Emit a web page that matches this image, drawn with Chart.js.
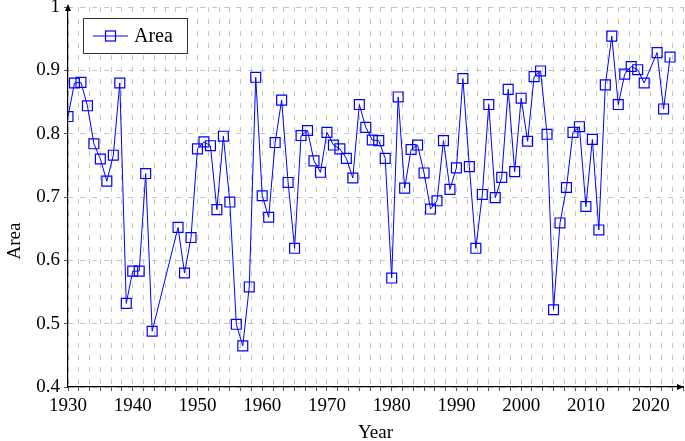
<!DOCTYPE html>
<html>
<head>
<meta charset="utf-8">
<script src="https://cdn.jsdelivr.net/npm/chart.js@4/dist/chart.umd.min.js"></script>
<style>
  html, body { margin: 0; padding: 0; background: #fff; overflow: hidden; }
  #wrap { width: 685px; height: 441px; }
</style>
</head>
<body>
<div id="wrap"><canvas id="chart"></canvas></div>
<script>
// Years with a reading (1944-1946 and 2020 have none)
const years = [
    1930, 1931, 1932, 1933, 1934, 1935, 1936, 1937, 1938, 1939, 1940, 1941, 1942, 1943,
    1947, 1948, 1949, 1950, 1951, 1952, 1953, 1954, 1955, 1956, 1957, 1958, 1959,
    1960, 1961, 1962, 1963, 1964, 1965, 1966, 1967, 1968, 1969,
    1970, 1971, 1972, 1973, 1974, 1975, 1976, 1977, 1978, 1979,
    1980, 1981, 1982, 1983, 1984, 1985, 1986, 1987, 1988, 1989,
    1990, 1991, 1992, 1993, 1994, 1995, 1996, 1997, 1998, 1999,
    2000, 2001, 2002, 2003, 2004, 2005, 2006, 2007, 2008, 2009,
    2010, 2011, 2012, 2013, 2014, 2015, 2016, 2017, 2018, 2019,
    2021, 2022, 2023
];
const areaValues = [
    0.827, 0.880, 0.881, 0.844, 0.784, 0.760, 0.725, 0.766, 0.880, 0.532, 0.583, 0.583, 0.737, 0.488,
    0.652, 0.580, 0.636, 0.776, 0.787, 0.781, 0.680, 0.796, 0.692, 0.499, 0.465, 0.558, 0.889,
    0.702, 0.668, 0.786, 0.853, 0.723, 0.619, 0.797, 0.805, 0.757, 0.739,
    0.802, 0.782, 0.776, 0.761, 0.730, 0.846, 0.810, 0.790, 0.789, 0.761,
    0.572, 0.858, 0.714, 0.775, 0.782, 0.738, 0.681, 0.694, 0.789, 0.712,
    0.746, 0.887, 0.748, 0.619, 0.704, 0.846, 0.699, 0.731, 0.870, 0.740,
    0.856, 0.788, 0.890, 0.899, 0.799, 0.522, 0.659, 0.715, 0.802, 0.811,
    0.685, 0.791, 0.648, 0.877, 0.954, 0.846, 0.894, 0.906, 0.901, 0.880,
    0.928, 0.839, 0.921
];
const xLabelYears = [1930, 1940, 1950, 1960, 1970, 1980, 1990, 2000, 2010, 2020];
const yTickValues = [0.4, 0.5, 0.6, 0.7, 0.8, 0.9, 1];

const BLUE = '#0000ff';
const GRID = '#c4c4c4';
const FONT = "'Liberation Serif', 'Times New Roman', serif";

Chart.defaults.font.family = FONT;
Chart.defaults.font.size = 19;
Chart.defaults.color = '#000';

// axis arrows, y label and the boxed legend in the upper left
const decorations = {
    id: 'decorations',
    afterDraw(chart) {
        const ctx = chart.ctx;
        const a = chart.chartArea;
        ctx.save();
        ctx.fillStyle = '#000';
        // y arrow
        ctx.beginPath();
        ctx.moveTo(a.left, a.top - 3);
        ctx.lineTo(a.left - 3, a.top + 4);
        ctx.lineTo(a.left + 3, a.top + 4);
        ctx.closePath();
        ctx.fill();
        // x arrow
        ctx.beginPath();
        ctx.moveTo(a.right + 1, a.bottom);
        ctx.lineTo(a.right - 6, a.bottom - 3);
        ctx.lineTo(a.right - 6, a.bottom + 3);
        ctx.closePath();
        ctx.fill();

        // y axis label
        ctx.save();
        ctx.translate(15, 241);
        ctx.rotate(-Math.PI / 2);
        ctx.font = '19px ' + FONT;
        ctx.textAlign = 'center';
        ctx.textBaseline = 'middle';
        ctx.fillText('Area', 0, 0);
        ctx.restore();

        // legend box
        const ds = chart.data.datasets[0];
        const bx = 83.5, by = 18.5, bw = 104, bh = 35;
        ctx.fillStyle = '#fff';
        ctx.fillRect(bx, by, bw, bh);
        ctx.strokeStyle = '#333';
        ctx.lineWidth = 1;
        ctx.strokeRect(bx, by, bw, bh);
        const cy = by + bh / 2;
        ctx.strokeStyle = ds.borderColor;
        ctx.lineWidth = ds.borderWidth;
        ctx.beginPath();
        ctx.moveTo(93, cy);
        ctx.lineTo(128, cy);
        ctx.stroke();
        ctx.lineWidth = ds.pointBorderWidth;
        ctx.strokeRect(105.5, cy - 5, 10, 10);
        ctx.fillStyle = '#000';
        ctx.font = '20px ' + FONT;
        ctx.textBaseline = 'middle';
        ctx.fillText(ds.label, 134, cy + 1);
        ctx.restore();
    }
};

new Chart(document.getElementById('chart'), {
    type: 'line',
    data: {
        datasets: [{
            label: 'Area',
            data: years.map((yr, i) => ({ x: yr, y: areaValues[i] })),
            borderColor: BLUE,
            borderWidth: 1,
            pointStyle: 'rect',
            pointRadius: 7,
            pointHoverRadius: 7,
            pointBorderWidth: 1.2,
            pointBorderColor: BLUE,
            pointBackgroundColor: 'rgba(0,0,0,0)',
            fill: false,
            tension: 0
        }]
    },
    options: {
        responsive: true,
        maintainAspectRatio: false,
        animation: false,
        layout: { autoPadding: false, padding: { top: 7, right: 2, left: 0, bottom: 0 } },
        plugins: {
            legend: { display: false },
            tooltip: { enabled: false }
        },
        scales: {
            x: {
                type: 'linear',
                min: 1930,
                max: 2025,
                afterBuildTicks: function(scale) {
                    const ticks = [];
                    for (let k = 0; k <= 57; k++) {
                        ticks.push({ value: 1930 + k * 10 / 6 });
                    }
                    scale.ticks = ticks;
                },
                afterFit: function(scale) {
                    scale.height = 54;
                    scale.paddingLeft = 0;
                    scale.paddingRight = 0;
                },
                ticks: {
                    autoSkip: false,
                    maxRotation: 0,
                    padding: 4,
                    callback: function(value) {
                        const r = Math.round(value);
                        if (Math.abs(value - r) < 1e-6 && xLabelYears.includes(r)) {
                            return String(r);
                        }
                        return '';
                    }
                },
                grid: {
                    color: GRID,
                    lineWidth: 1,
                    drawTicks: true,
                    tickLength: 4,
                    tickColor: '#555',
                    tickBorderDash: []
                },
                border: {
                    display: true,
                    color: '#000',
                    width: 1.2,
                    dash: [5, 7]
                },
                title: {
                    display: true,
                    text: 'Year',
                    font: { size: 19, lineHeight: 1 },
                    padding: { top: 0, bottom: -2 }
                }
            },
            y: {
                min: 0.4,
                max: 1,
                afterBuildTicks: function(scale) {
                    scale.ticks = yTickValues.map(v => ({ value: v }));
                },
                afterFit: function(scale) {
                    scale.width = 68;
                    scale.paddingTop = 0;
                    scale.paddingBottom = 0;
                },
                ticks: {
                    padding: 4,
                    callback: function(value) {
                        return value === 1 ? '1' : value.toFixed(1);
                    }
                },
                grid: {
                    color: GRID,
                    lineWidth: 1,
                    drawTicks: true,
                    tickLength: 4,
                    tickColor: '#555',
                    tickBorderDash: []
                },
                border: {
                    display: true,
                    color: '#000',
                    width: 1.2,
                    dash: [5, 7]
                },
                title: { display: false }
            }
        }
    },
    plugins: [decorations]
});
</script>
</body>
</html>
